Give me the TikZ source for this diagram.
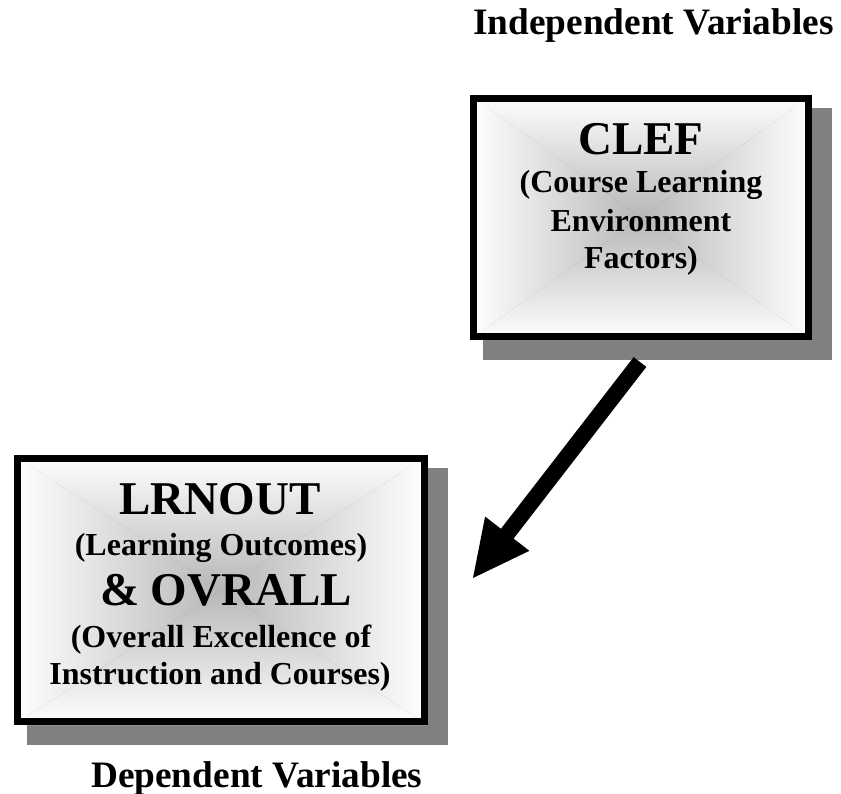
\documentclass[tikz,border=0pt]{standalone}
\usepackage{fontspec}
\setmainfont{Liberation Serif}
\usetikzlibrary{calc,backgrounds}

\definecolor{boxcore}{gray}{0.72}
\definecolor{boxmid}{gray}{0.90}
\definecolor{shadowgray}{gray}{0.50}

% rectangular ("from centre") gradient filling the inside of a framed node
\newcommand\rectgradfill[1]{%
  \begin{scope}
    \clip (#1.north west) -- (#1.north east) -- (#1.center) -- cycle;
    \shade[top color=white, middle color=boxmid, bottom color=boxcore]
      (#1.north west) rectangle (#1.east);
  \end{scope}
  \begin{scope}
    \clip (#1.south west) -- (#1.south east) -- (#1.center) -- cycle;
    \shade[top color=boxcore, middle color=boxmid, bottom color=white]
      (#1.west) rectangle (#1.south east);
  \end{scope}
  \begin{scope}
    \clip (#1.north west) -- (#1.south west) -- (#1.center) -- cycle;
    \shade[left color=white, middle color=boxmid, right color=boxcore]
      (#1.north west) rectangle (#1.south);
  \end{scope}
  \begin{scope}
    \clip (#1.north east) -- (#1.south east) -- (#1.center) -- cycle;
    \shade[left color=boxcore, middle color=boxmid, right color=white]
      (#1.north) rectangle (#1.south east);
  \end{scope}%
}

\tikzset{
  boxframe/.style={rectangle, draw=black, line width=7pt, inner sep=0pt},
  dropshadow/.style={fill=shadowgray},
  bigtxt/.style={font=\fontsize{47}{47}\selectfont\bfseries, anchor=base, inner sep=0pt},
  smalltxt/.style={font=\fontsize{32}{32}\selectfont\bfseries, anchor=base, inner sep=0pt},
  labeltxt/.style={font=\fontsize{37.3}{37.3}\selectfont\bfseries, anchor=base west, inner sep=0pt},
}

\begin{document}
\begin{tikzpicture}[x=1pt, y=-1pt]
  \useasboundingbox (0,0) rectangle (841,794);

  % the two framed boxes
  \node[boxframe, minimum width=335pt, minimum height=238pt] (clef) at (641,217.5) {};
  \node[boxframe, minimum width=407pt, minimum height=263pt] (lrn) at (221,590) {};

  \begin{pgfonlayer}{background}
    \fill[dropshadow] ([shift={(12.5,13.5)}]clef.north west) rectangle ([shift={(19.5,20.5)}]clef.south east);
    \fill[dropshadow] ([shift={(12.5,12.5)}]lrn.north west) rectangle ([shift={(19.5,19.5)}]lrn.south east);
    \rectgradfill{clef}
    \rectgradfill{lrn}
  \end{pgfonlayer}

  % independent variable box text
  \node[bigtxt]   (clefA) at (641,155)   {CLEF};
  \node[smalltxt] (clefB) at (641,193)   {(Course Learning};
  \node[smalltxt] (clefC) at (641,231.5) {Environment};
  \node[smalltxt] (clefD) at (641,268.5) {Factors)};

  % dependent variable box text
  \node[bigtxt]   (lrnA) at (220,514)   {LRNOUT};
  \node[smalltxt] (lrnB) at (221,555.5) {(Learning Outcomes)};
  \node[bigtxt]   (lrnC) at (226,605.5) {\& OVRALL};
  \node[smalltxt] (lrnD) at (221,647)   {(Overall Excellence of};
  \node[smalltxt] (lrnE) at (220,684)   {Instruction and Courses)};

  % captions
  \node[labeltxt] (indep) at (473,35)  {Independent Variables};
  \node[labeltxt] (dep)   at (91,787)  {Dependent Variables};

  % block arrow from the CLEF box down to the outcome box
  \coordinate (as) at (640,362);
  \coordinate (at) at (473,578);
  \coordinate (hb) at ($(at)!56pt!(as)$);
  \fill[black]
    ($(as)!8pt!90:(at)$) -- ($(hb)!8pt!90:(at)$) -- ($(hb)!28pt!90:(at)$)
    -- (at)
    -- ($(hb)!28pt!-90:(at)$) -- ($(hb)!8pt!-90:(at)$) -- ($(as)!8pt!-90:(at)$)
    -- cycle;
\end{tikzpicture}
\end{document}
